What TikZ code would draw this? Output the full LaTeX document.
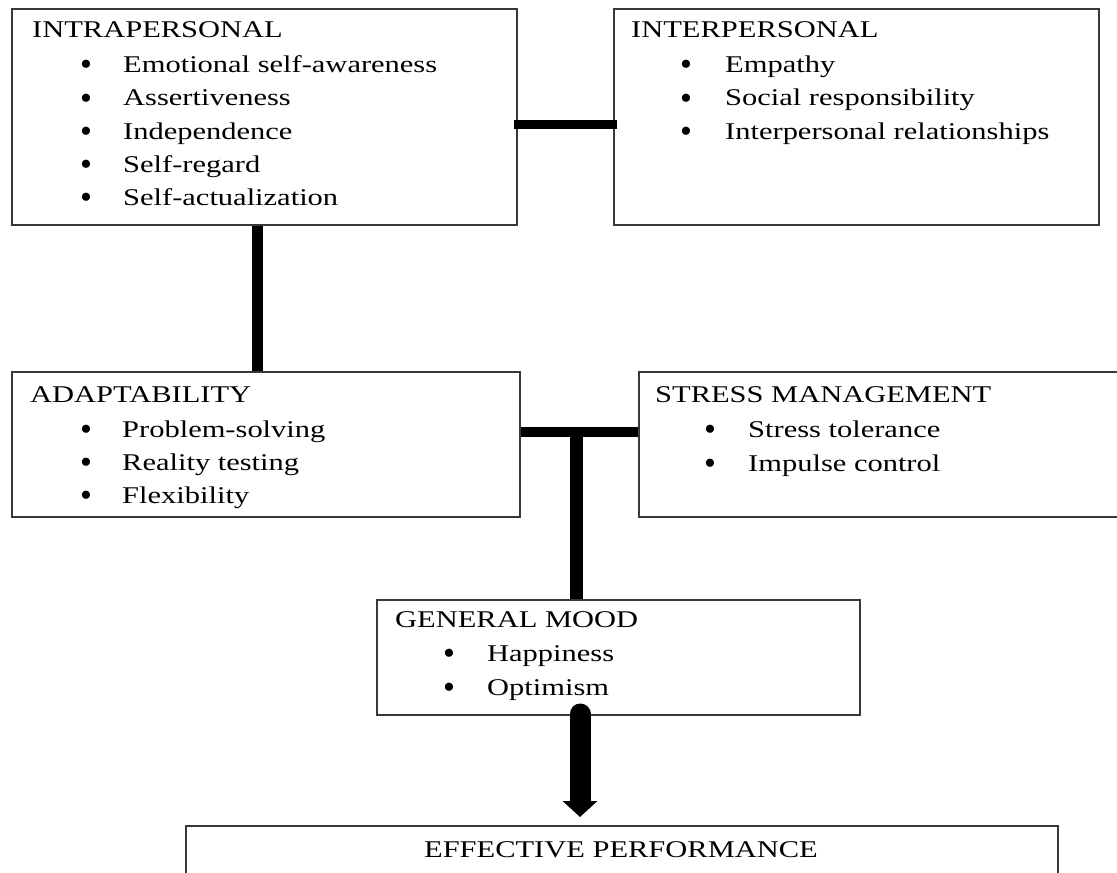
\documentclass[tikz,border=0pt]{standalone}
\usepackage{fontspec}
\setmainfont{Liberation Serif}[FakeStretch=1.27]
\newfontfamily\bulfont{Liberation Serif}
\usetikzlibrary{arrows.meta,calc}
\tikzset{
  box/.style={draw=black!78, line width=2pt, rectangle, inner sep=0pt, anchor=north west},
  txt/.style={anchor=base west, inner sep=0pt, font=\fontsize{24}{28}\selectfont},
  bul/.style={anchor=center, inner sep=0pt, yshift=4pt, font=\bulfont\fontsize{34}{34}\selectfont},
  conn/.style={draw=black, line width=#1},
  conn/.default=10pt
}
\begin{document}
\begin{tikzpicture}[x=1pt,y=-1pt]
\useasboundingbox[fill=white] (0,0) rectangle (1117,873);
% boxes
\node[box, minimum width=505pt, minimum height=216pt] (intra) at (11,8) {};
\node[box, minimum width=485pt, minimum height=216pt] (inter) at (613,8) {};
\node[box, minimum width=508pt, minimum height=145pt] (adapt) at (11,371) {};
\node[box, minimum width=490pt, minimum height=145pt] (stress) at (638,371) {};
\node[box, minimum width=483pt, minimum height=115pt] (mood) at (376,599) {};
\node[box, minimum width=872pt, minimum height=90pt] (perf) at (185,825) {};
% texts: intrapersonal
\node[txt] (t1) at (32,37) {INTRAPERSONAL};
\node[bul] (b11) at (86,72) {•};
\node[txt] (t11) at (123,72) {Emotional self-awareness};
\node[bul] (b12) at (86,105.5) {•};
\node[txt] (t12) at (123,105.5) {Assertiveness};
\node[bul] (b13) at (86,139) {•};
\node[txt] (t13) at (123,139) {Independence};
\node[bul] (b14) at (86,172) {•};
\node[txt] (t14) at (123,172) {Self-regard};
\node[bul] (b15) at (86,205) {•};
\node[txt] (t15) at (123,205) {Self-actualization};
% interpersonal
\node[txt] (t2) at (631,37) {INTERPERSONAL};
\node[bul] (b21) at (686,72) {•};
\node[txt] (t21) at (725,72) {Empathy};
\node[bul] (b22) at (686,105.5) {•};
\node[txt] (t22) at (725,105.5) {Social responsibility};
\node[bul] (b23) at (686,139) {•};
\node[txt] (t23) at (725,139) {Interpersonal relationships};
% adaptability
\node[txt] (t3) at (30,402) {ADAPTABILITY};
\node[bul] (b31) at (86,437) {•};
\node[txt] (t31) at (122,437) {Problem-solving};
\node[bul] (b32) at (86,470) {•};
\node[txt] (t32) at (122,470) {Reality testing};
\node[bul] (b33) at (86,503) {•};
\node[txt] (t33) at (122,503) {Flexibility};
% stress management
\node[txt] (t4) at (655,402) {STRESS MANAGEMENT};
\node[bul] (b41) at (710,437) {•};
\node[txt] (t41) at (748,437) {Stress tolerance};
\node[bul] (b42) at (710,471) {•};
\node[txt] (t42) at (748,471) {Impulse control};
% general mood
\node[txt] (t5) at (395,627) {GENERAL MOOD};
\node[bul] (b51) at (449,661) {•};
\node[txt] (t51) at (487,661) {Happiness};
\node[bul] (b52) at (449,695) {•};
\node[txt] (t52) at (487,695) {Optimism};
% effective performance
\node[anchor=base, inner sep=0pt, font=\fontsize{24}{28}\selectfont] (t6) at (621,857) {EFFECTIVE PERFORMANCE};
% connectors
\coordinate (ya) at (0,124);
\coordinate (yb) at (0,432);
\coordinate (xa) at (257,0);
\coordinate (xb) at (576,0);
\coordinate (xc) at (580,0);
\draw[conn=9pt, shorten <=-4pt, shorten >=-4pt] (ya -| intra.east) -- (ya -| inter.west);
\draw[conn=11pt] (xa |- intra.south) -- (xa |- adapt.north);
\draw[conn=10pt] (yb -| adapt.east) -- (yb -| stress.west);
\draw[conn=13pt, shorten <=-5pt] (yb -| xb) -- (xb |- mood.north);
\draw[line width=21pt, line cap=round, shorten <=-2pt, shorten >=8pt,
      -{Triangle[width=34pt,length=16pt]}] (xc |- mood.south) -- (xc |- perf.north);
\end{tikzpicture}
\end{document}
